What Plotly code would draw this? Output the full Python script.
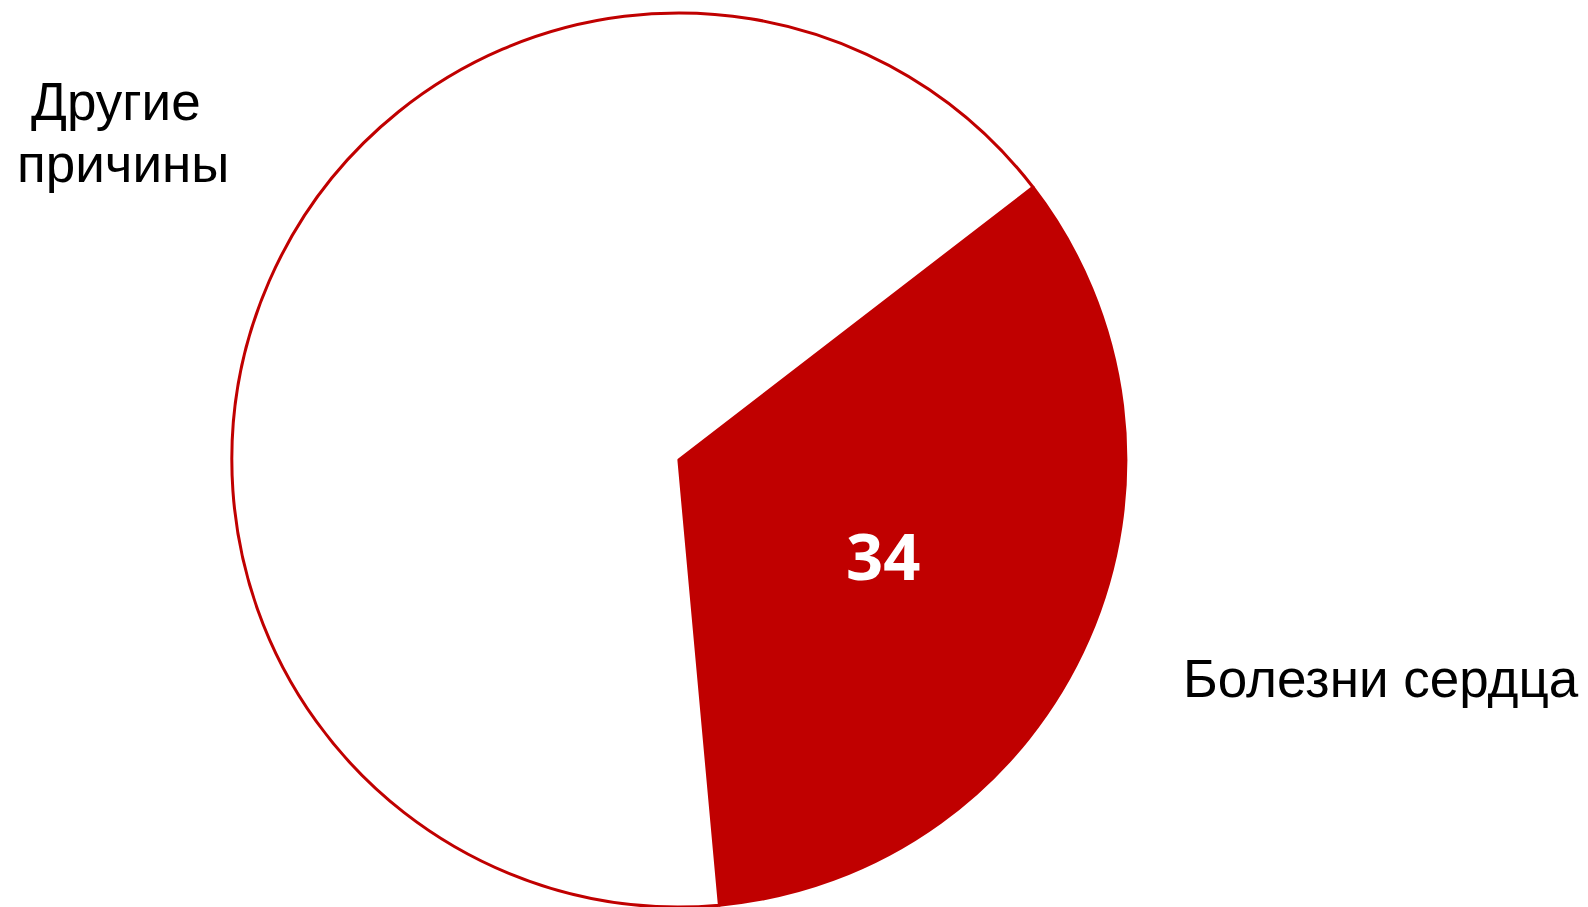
import plotly.graph_objects as go

# Causes of death, share in percent
labels = ["Болезни сердца", "Другие причины"]
values = [34, 66]

RED = "#C00000"

fig = go.Figure(
    go.Pie(
        labels=labels,
        values=values,
        textinfo="none",
        sort=False,
        direction="clockwise",
        rotation=52.4,
        marker=dict(colors=[RED, "white"], line=dict(color=RED, width=3)),
        domain=dict(x=[0.146, 0.709], y=[0.0, 0.9857]),
        hoverinfo="skip",
        showlegend=False,
    )
)

# value label inside the red slice
fig.add_annotation(
    text=f"<b>{values[0]}</b>", x=883 / 1588, y=1 - 555 / 907, xref="paper", yref="paper",
    xanchor="center", yanchor="middle", showarrow=False,
    font=dict(family="Open Sans", size=65, color="white"),
)

label_font = dict(family="Liberation Sans, Arial, sans-serif", size=53, color="black")

fig.add_annotation(
    text=labels[0], x=1581 / 1588, y=1 - 710 / 907, xref="paper", yref="paper",
    xanchor="right", yanchor="bottom", showarrow=False, font=label_font,
)
fig.add_annotation(
    text=labels[1].split(" ")[0], x=115.5 / 1588, y=1 - 133 / 907, xref="paper", yref="paper",
    xanchor="center", yanchor="bottom", showarrow=False, font=label_font,
)
fig.add_annotation(
    text=labels[1].split(" ")[1], x=122.5 / 1588, y=1 - 195 / 907, xref="paper", yref="paper",
    xanchor="center", yanchor="bottom", showarrow=False, font=label_font,
)

fig.update_layout(
    width=1588,
    height=907,
    margin=dict(l=0, r=0, t=0, b=0),
    paper_bgcolor="white",
    plot_bgcolor="white",
)

fig.write_html("out.html")
